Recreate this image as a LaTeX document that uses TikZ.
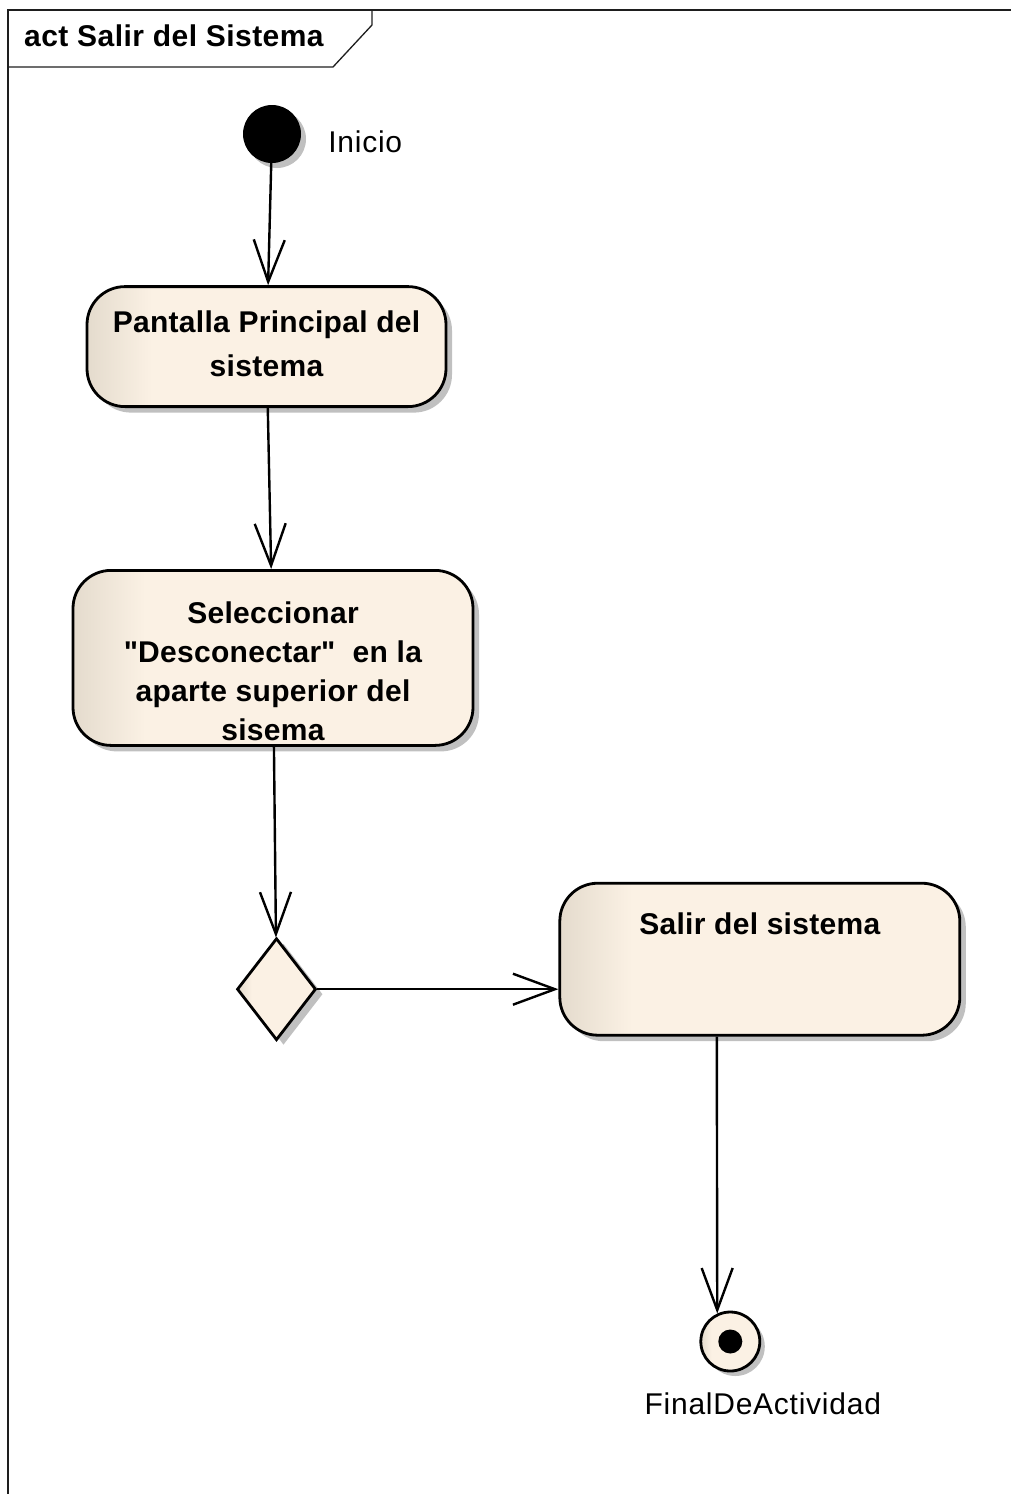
\documentclass[tikz,border=0pt]{standalone}
\usepackage{fontspec}
\setmainfont{Liberation Sans}
\usetikzlibrary{shapes.geometric, arrows.meta, positioning, shadows}
\definecolor{actlight}{RGB}{251,241,228}
\definecolor{actdark}{RGB}{228,219,205}
\definecolor{shadowgray}{RGB}{192,192,192}
\definecolor{framegray}{RGB}{30,30,30}
\pgfdeclarehorizontalshading{actshade}{100bp}{color(0bp)=(actdark);
  color(25bp)=(actdark); color(34bp)=(actlight); color(100bp)=(actlight)}

\begin{document}
\begin{tikzpicture}[
  x=1pt, y=-1pt,
  action/.style={rectangle, rounded corners=38pt, draw=black, line width=2.8pt,
                 shading=actshade,
                 drop shadow={shadow xshift=6pt, shadow yshift=-6pt,
                              fill=shadowgray, opacity=1},
                 inner sep=0pt, align=center,
                 font=\fontsize{30}{39}\selectfont\bfseries\addfontfeature{LetterSpace=1}},
  startnode/.style={circle, fill=black, minimum size=58pt, inner sep=0pt,
                    drop shadow={shadow xshift=5pt, shadow yshift=-5pt,
                                 fill=shadowgray, opacity=1}},
  decision/.style={diamond, draw=black, line width=2.8pt, inner sep=0pt,
                   minimum width=79pt, minimum height=102pt,
                   shading=actshade,
                   drop shadow={shadow xshift=7pt, shadow yshift=-5pt,
                                fill=shadowgray, opacity=1}},
  endnode/.style={circle, draw=black, line width=2.8pt, minimum size=59pt,
                  inner sep=0pt, shading=actshade,
                  drop shadow={shadow xshift=5pt, shadow yshift=-5pt,
                               fill=shadowgray, opacity=1},
                  path picture={\fill[black] (path picture bounding box.center)
                                circle (12pt);}},
  flow/.style={-{Straight Barb[length=42pt, width=31pt]}, line width=2.4pt},
  lbl/.style={font=\fontsize{30}{36}\selectfont\addfontfeature{LetterSpace=2.5},
              inner sep=0pt},
  framestyle/.style={draw=framegray, line width=1.3pt},
  frametitle/.style={font=\fontsize{30}{36}\selectfont\bfseries\addfontfeature{LetterSpace=1.5},
                     inner sep=0pt}
]
\useasboundingbox (0,0) rectangle (1011,1494);

% Frame with title tab
\draw[framestyle] (8,1494) -- (8,10) -- (1011,10);
\draw[framestyle] (372,10) -- (372,25) -- (333,67) -- (8,67);
\node[frametitle, anchor=base west] (titulo) at (24,46) {act Salir del Sistema};

% Activity nodes
\node[startnode] (inicio) at (272,134) {};
\node[lbl, right=27pt of inicio, yshift=-8pt] (inicio-lbl) {Inicio};

\node[action, minimum width=359pt, text height=90pt, text depth=30pt,
      below=122pt of inicio, xshift=-5.5pt] (pantalla)
    {Pantalla Principal del\\[5pt] sistema};
\node[action, minimum width=400pt, text height=170pt, text depth=5pt,
      below=161pt of pantalla, xshift=6.5pt] (seleccionar)
    {Seleccionar\\ \textquotedbl Desconectar\textquotedbl\ \ en la\\
     aparte superior del\\ sisema};
\node[decision, below=190pt of seleccionar, xshift=3.5pt] (decision) {};
\node[action, minimum width=400pt, text height=51pt, text depth=101pt,
      right=241pt of decision, yshift=30pt] (salir)
    {Salir del sistema};
\node[endnode, below=274pt of salir, xshift=-29.5pt] (fin) {};
\node[lbl, below=20pt of fin, xshift=32.5pt] (fin-lbl) {FinalDeActividad};

% Control flows
\draw[flow] (inicio) -- (pantalla);
\draw[flow] (pantalla) -- (seleccionar);
\draw[flow] (seleccionar) -- (decision);
\draw[flow] (decision.east) -- (decision.east -| salir.west);
\draw[flow] ([xshift=-43pt]salir.south) -- (fin.115);
\end{tikzpicture}
\end{document}
